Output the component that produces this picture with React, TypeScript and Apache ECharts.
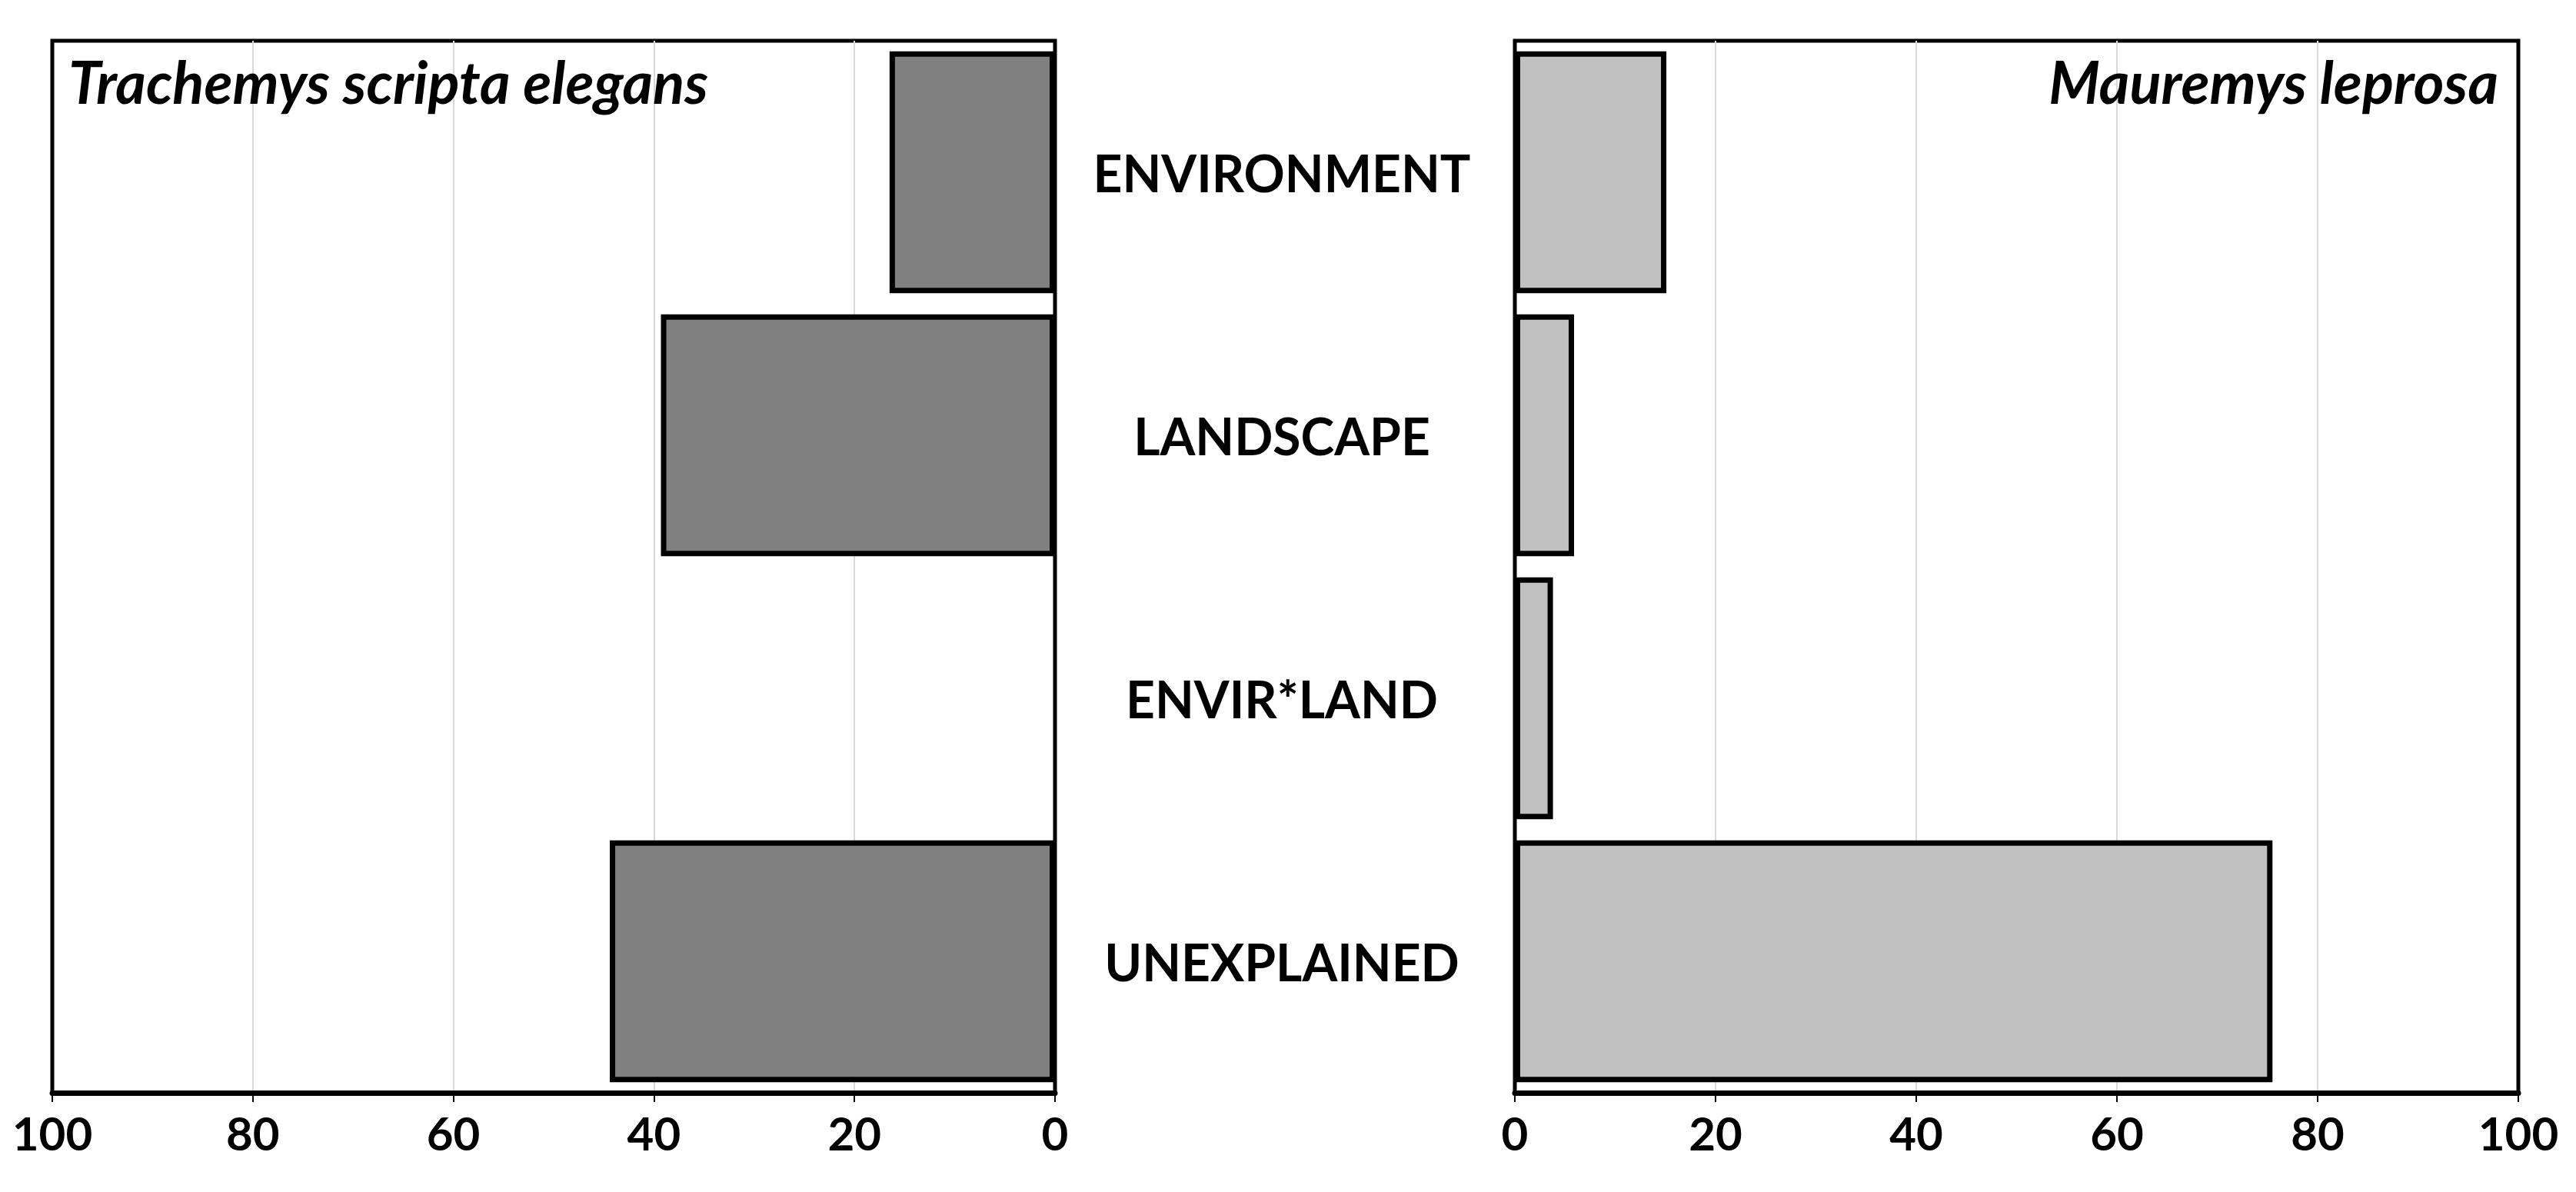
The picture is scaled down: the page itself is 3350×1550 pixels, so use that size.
import React, { useEffect, useRef } from "react";
import * as echarts from "echarts";

const categories = ["ENVIRONMENT", "LANDSCAPE", "ENVIR*LAND", "UNEXPLAINED"];
const trachemysValues: (number | string)[] = [16.5, 39.3, "-", 44.4];
const mauremysValues = [15.1, 5.9, 3.8, 75.5];
const leftTitle = "Trachemys scripta elegans";
const rightTitle = "Mauremys leprosa";

const FONT = "Lato";

export default function App() {
  const ref = useRef<HTMLDivElement>(null);
  useEffect(() => {
    document.body.style.margin = "0";
    const chart = echarts.init(ref.current!, null, { renderer: "svg" });
    const valueAxis = (gridIndex: number, inverse: boolean) => ({
      type: "value",
      gridIndex,
      min: 0,
      max: 100,
      interval: 20,
      inverse,
      axisLine: { show: true, onZero: false, lineStyle: { color: "#000", width: 7 } },
      axisTick: { show: true, length: 12, lineStyle: { color: "#000", width: 2 } },
      axisLabel: {
        color: "#000",
        fontFamily: FONT,
        fontWeight: "bold",
        fontSize: 60,
        margin: 22,
      },
      splitLine: {
        show: true,
        showMinLine: false,
        showMaxLine: false,
        lineStyle: { color: "#d9d9d9", width: 2 },
      },
    });
    const titleStyle = {
      fontFamily: FONT,
      fontStyle: "italic",
      fontWeight: "bold",
      fontSize: 76,
      color: "#000",
    };
    chart.setOption({
      animation: false,
      backgroundColor: "#fff",
      title: [
        { text: leftTitle, left: 84, top: 62, textStyle: titleStyle },
        { text: rightTitle, right: 96, top: 62, textStyle: titleStyle },
      ],
      grid: [
        { left: 68, right: 1978, top: 53, bottom: 129, show: true, borderColor: "#000", borderWidth: 5 },
        { left: 1970, right: 75, top: 53, bottom: 129, show: true, borderColor: "#000", borderWidth: 5 },
      ],
      xAxis: [valueAxis(0, true), valueAxis(1, false)],
      yAxis: [
        {
          type: "category",
          gridIndex: 0,
          data: categories,
          inverse: true,
          position: "right",
          axisLine: { show: false },
          axisTick: { show: false },
          axisLabel: { show: false },
        },
        {
          type: "category",
          gridIndex: 1,
          data: categories,
          inverse: true,
          position: "left",
          axisLine: { show: false },
          axisTick: { show: false },
          axisLabel: {
            show: true,
            align: "center",
            margin: 303,
            color: "#000",
            fontFamily: FONT,
            fontWeight: "bold",
            fontSize: 66,
          },
        },
      ],
      series: [
        {
          type: "bar",
          xAxisIndex: 0,
          yAxisIndex: 0,
          data: trachemysValues,
          barCategoryGap: "8%",
          itemStyle: { color: "#808080", borderColor: "#000", borderWidth: 7 },
        },
        {
          type: "bar",
          xAxisIndex: 1,
          yAxisIndex: 1,
          data: mauremysValues,
          barCategoryGap: "8%",
          itemStyle: { color: "#c0c0c0", borderColor: "#000", borderWidth: 7 },
        },
      ],
    });
    return () => chart.dispose();
  }, []);
  return <div ref={ref} style={{ width: 3350, height: 1550 }} />;
}
